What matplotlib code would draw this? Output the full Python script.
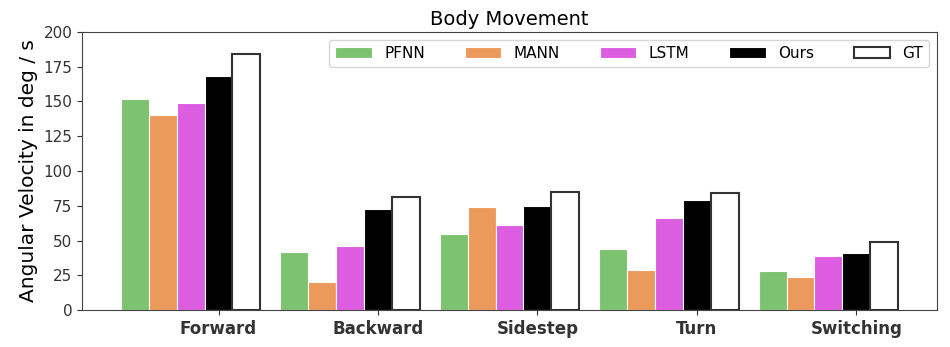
import numpy as np
import matplotlib.pyplot as plt

categories = ['Forward', 'Backward', 'Sidestep', 'Turn', 'Switching']
pfnn = [152, 42, 55, 44, 28]
mann = [140, 20, 74, 29, 24]
lstm = [149, 46, 61, 66, 39]
ours = [168, 73, 75, 79, 41]
gt = [184, 81, 85, 84, 49]

x = np.arange(len(categories))
width = 0.175

fig = plt.figure(figsize=(9.5, 3.47), dpi=100)
ax = fig.add_axes([0.0863, 0.1066, 0.9, 0.8012])

ax.bar(x - 3 * width, pfnn, width, color='#7dc36f', edgecolor='white', linewidth=0.8, label='PFNN')
ax.bar(x - 2 * width, mann, width, color='#ec9a5c', edgecolor='white', linewidth=0.8, label='MANN')
ax.bar(x - width, lstm, width, color='#dd5de0', edgecolor='white', linewidth=0.8, label='LSTM')
ax.bar(x, ours, width, color='black', edgecolor='white', linewidth=0.8, label='Ours')
ax.bar(x + width, gt, width, color='white', edgecolor='#333333', linewidth=1.5, label='GT')

ax.set_ylim(0, 200)
ax.set_yticks(range(0, 201, 25))
ax.set_xticks(x)
ax.set_xticklabels(categories, fontweight='bold', fontsize=12)
ax.tick_params(axis='y', labelsize=11, colors='#333333')
ax.tick_params(axis='x', colors='#333333')
for s in ax.spines.values():
    s.set_color('#444444')

ax.set_ylabel('Angular Velocity in deg / s', fontsize=14.5)
ax.set_title('Body Movement', fontsize=14, pad=5)
ax.legend(ncol=5, loc='upper right', fontsize=11, handlelength=2.4, columnspacing=2.6)

plt.savefig('out.png', dpi=100)
